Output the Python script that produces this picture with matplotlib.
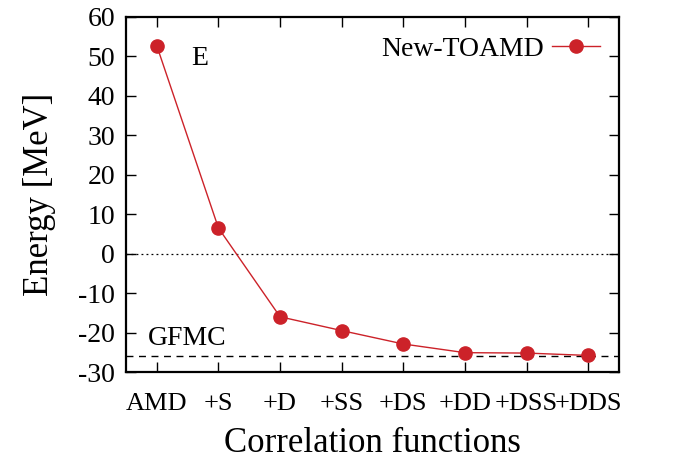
import matplotlib
matplotlib.use("Agg")
import matplotlib.pyplot as plt

categories = ["AMD", "+S", "+D", "+SS", "+DS", "+DD", "+DSS", "+DDS"]
energy = [52.7, 6.5, -16.0, -19.5, -22.9, -25.1, -25.2, -25.8]
gfmc = -26.0
yticks = [60, 50, 40, 30, 20, 10, 0, -10, -20, -30]

plt.rcParams['font.family'] = ['Liberation Serif', 'DejaVu Serif']
plt.rcParams['axes.unicode_minus'] = False

fig = plt.figure(figsize=(6.93, 4.63), dpi=100)
ax = fig.add_axes([126/693, 1 - 372/463, (619-126)/693, (372-17)/463])

x = list(range(len(categories)))
red = '#cc2229'
ax.axhline(0, color='black', linestyle=(0, (1.5, 2.5)), linewidth=0.9)
ax.axhline(gfmc, color='black', linestyle=(0, (5, 4)), linewidth=1.0)
ax.plot(x, energy, color=red, linewidth=1.0, marker='o', markersize=9.5,
        label='New-TOAMD', zorder=3)

ax.set_xlim(-0.5, len(categories) - 0.5)
ax.set_ylim(-30, 60)
ax.set_xticks(x)
ax.set_xticklabels(categories)
ax.set_yticks(yticks)
ax.tick_params(direction='in', length=7, width=1.0, top=True, right=True,
               labelsize=20)
ax.tick_params(axis='x', pad=15, labelsize=19)
ax.tick_params(axis='y', pad=8)
for s in ax.spines.values():
    s.set_linewidth(1.6)

ax.set_xlabel('Correlation functions', fontsize=25, labelpad=9)
ax.set_ylabel('Energy [MeV]', fontsize=25, labelpad=16)

ax.text(0.7, 49.5, 'E', fontsize=20, ha='center', va='center')
ax.text(0.5, -21.5, 'GFMC', fontsize=20, ha='center', va='center')

ax.legend(loc='upper right', frameon=False, markerfirst=False, fontsize=20,
          handlelength=1.7, borderaxespad=0.3, handletextpad=0.3)

fig.savefig('out.png', dpi=100)
